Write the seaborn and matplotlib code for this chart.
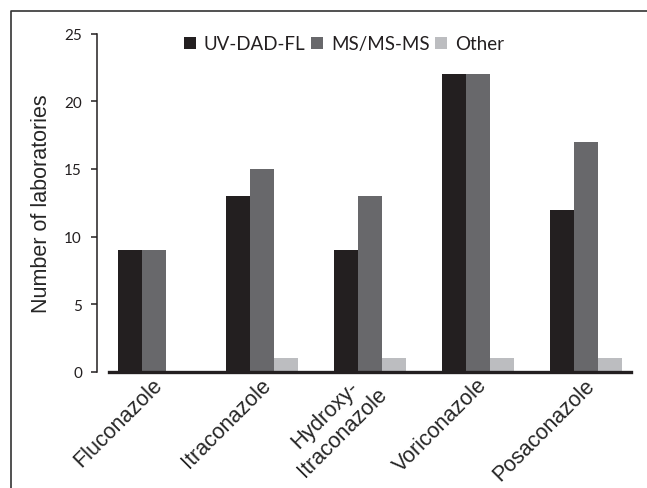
import matplotlib
matplotlib.use('Agg')
import matplotlib.pyplot as plt
import matplotlib.transforms as mtransforms
import seaborn as sns
import pandas as pd
from matplotlib.lines import Line2D

# dati
drugs = ['Fluconazole', 'Itraconazole', 'Hydroxy-\nItraconazole', 'Voriconazole', 'Posaconazole']
methods = ['UV-DAD-FL', 'MS/MS-MS', 'Other']
uv_dad_fl = [9, 13, 9, 22, 12]
ms_msms = [9, 15, 13, 22, 17]
other = [0, 1, 1, 1, 1]
colors = ['#231f20', '#68686b', '#bcbdc0']

df = pd.DataFrame({
    'drug': drugs * 3,
    'method': [m for m in methods for _ in drugs],
    'labs': uv_dad_fl + ms_msms + other,
})

sns.set_style('white')
plt.rcParams['font.family'] = ['Liberation Sans', 'DejaVu Sans']

fig = plt.figure(figsize=(6.47, 4.89), dpi=100)
ax = fig.add_axes([100 / 647, 1 - 373 / 489, 540 / 647, 338.5 / 489])

sns.barplot(data=df, x='drug', y='labs', hue='method', hue_order=methods,
            palette=colors, width=2 / 3, gap=0, linewidth=0, saturation=1,
            ax=ax)

ax.set_xlim(-0.5, 4.5)
ax.set_ylim(0, 25)
ax.set_yticks([0, 5, 10, 15, 20, 25])
ax.set_xlabel('')
ax.set_ylabel('Number of laboratories', fontsize=15.5, labelpad=9)

# assi
for s in ['top', 'right']:
    ax.spines[s].set_visible(False)
ax.spines['left'].set_position(('outward', 2))
ax.spines['left'].set_linewidth(1.1)
ax.spines['left'].set_color('#231f20')
ax.spines['bottom'].set_bounds(-0.417, 4.417)
ax.spines['bottom'].set_linewidth(2.4)
ax.spines['bottom'].set_color('#231f20')

ax.tick_params(axis='y', left=True, length=4, width=1.1, color='#231f20',
               labelsize=11, pad=7)
for t in ax.get_yticklabels():
    t.set_fontfamily(['Lato', 'DejaVu Sans'])
    t.set_color('#231f20')
ax.tick_params(axis='x', bottom=False, length=0, pad=6)
shift = mtransforms.ScaledTranslation(4 / 72, -1 / 72, fig.dpi_scale_trans)
for t in ax.get_xticklabels():
    t.set_rotation(45)
    t.set_ha('right')
    t.set_va('center')
    t.set_rotation_mode('anchor')
    t.set_fontsize(15.5)
    t.set_multialignment('center')
    t.set_transform(t.get_transform() + shift)

leg = ax.legend(loc='center', bbox_to_anchor=(0.452, 0.969), ncol=3,
                frameon=False, handlelength=0.65, handleheight=0.65,
                handletextpad=0.4, columnspacing=0.3,
                prop={'family': 'Lato', 'size': 13.5})
for t in leg.get_texts():
    t.set_color('#231f20')

# cornice della figura (tagliata a destra e in basso)
fx = 11 / 647
fy = 1 - 12 / 489
fig.add_artist(Line2D([fx, fx, 1.0], [0.0, fy, fy], transform=fig.transFigure,
                      color='#333333', linewidth=1.2))

fig.savefig('out.png', dpi=100)
